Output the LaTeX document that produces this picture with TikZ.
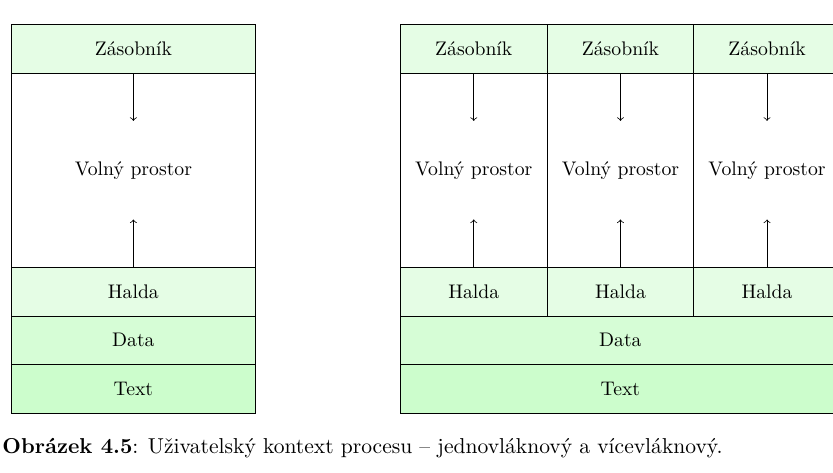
\documentclass[tikz,border=0pt]{standalone}
\usepackage{fontspec}
\definecolor{zasc}{RGB}{229,253,229}
\definecolor{datac}{RGB}{214,253,214}
\definecolor{textc}{RGB}{204,253,204}
\def\u{0.508pt}
\begin{document}
\begin{tikzpicture}[x=0.508pt,y=-0.508pt,
  box/.style={draw, inner sep=0pt, anchor=north west, text=black},
  wone/.style={minimum width=244*\u},
  wcol/.style={minimum width=146.7*\u},
  wwide/.style={minimum width=440*\u},
  hone/.style={minimum height=48.6*\u},
  hfour/.style={minimum height=194.4*\u},
  arr/.style={->}]
\useasboundingbox (0,0) rectangle (833,473);
% left stack
\node[box,wone,hone,fill=zasc] (lz) at (11,24) {Zásobník};
\node[box,wone,hfour] (lv) at (11,72.6) {Volný prostor};
\node[box,wone,hone,fill=zasc] (lh) at (11,267) {Halda};
\node[box,wone,hone,fill=datac] (ld) at (11,315.6) {Data};
\node[box,wone,hone,fill=textc] (lt) at (11,364.2) {Text};
\path (lz.south) ++(0,47.5) coordinate (lza);
\path (lh.north) ++(0,-47.5) coordinate (lha);
\draw[arr] (lz.south) -- (lza);
\draw[arr] (lh.north) -- (lha);
% right stack
\foreach \i/\x in {1/400,2/546.7,3/693.3}{
  \node[box,wcol,hone,fill=zasc] (rz\i) at (\x,24) {Zásobník};
  \node[box,wcol,hfour] (rv\i) at (\x,72.6) {Volný prostor};
  \node[box,wcol,hone,fill=zasc] (rh\i) at (\x,267) {Halda};
  \path (rz\i.south) ++(0,47.5) coordinate (rza\i);
  \path (rh\i.north) ++(0,-47.5) coordinate (rha\i);
  \draw[arr] (rz\i.south) -- (rza\i);
  \draw[arr] (rh\i.north) -- (rha\i);
}
\node[box,wwide,hone,fill=datac] (rd) at (400,315.6) {Data};
\node[box,wwide,hone,fill=textc] (rt) at (400,364.2) {Text};
% caption
\node[anchor=base west, inner sep=0pt, font=\fontsize{10.95}{13.6}\selectfont] (cap) at (2,454)
  {\textbf{Obrázek 4.5}: Uživatelský kontext procesu – jednovláknový a vícevláknový.};
\end{tikzpicture}
\end{document}
